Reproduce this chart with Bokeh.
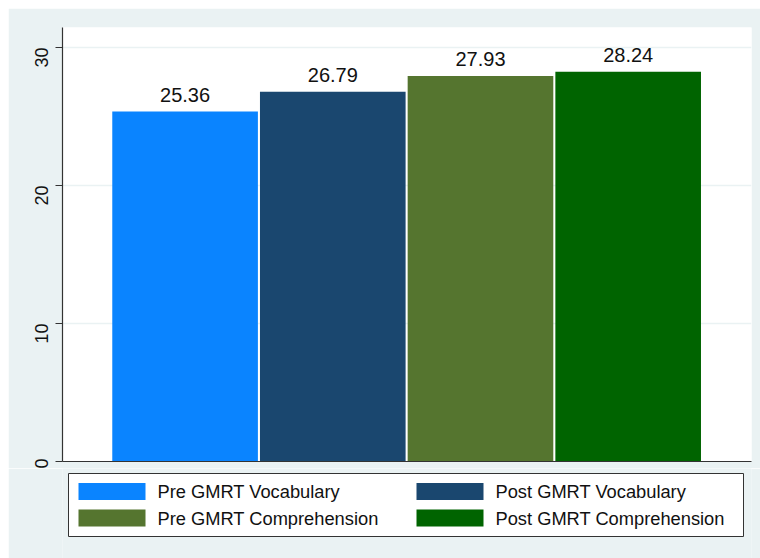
from bokeh.plotting import figure
from bokeh.models import ColumnDataSource, Range1d, FixedTicker, Spacer
from bokeh.layouts import column, row
from bokeh.embed import file_html
from bokeh.resources import INLINE
from bokeh.core.properties import value
import math

categories = ["Pre GMRT Vocabulary", "Post GMRT Vocabulary", "Pre GMRT Comprehension", "Post GMRT Comprehension"]
values = [25.36, 26.79, 27.93, 28.24]
labels = ["25.36", "26.79", "27.93", "28.24"]
colors = ["#0A84FF", "#1A476F", "#55752F", "#006400"]
y_ticks = [0, 10, 20, 30]

FONT = "Liberation Sans"
BG = "#EAF2F3"
TXT = "#111111"

# ---------------- main chart ----------------
p = figure(width=752, height=460, output_backend="svg", toolbar_location=None,
           x_range=Range1d(0.17, 4.835), y_range=Range1d(0, 31.45),
           min_border_left=54, min_border_right=9, min_border_top=19, min_border_bottom=7)
p.border_fill_color = BG
p.background_fill_color = "white"
p.outline_line_color = None

xs = [1, 2, 3, 4]
src = ColumnDataSource(dict(x=xs, top=values, label=labels, color=colors))

p.vbar(x="x", top="top", width=0.986, bottom=0, source=src,
       fill_color="color", line_color=None)

p.text(x="x", y="top", text="label", source=src, text_align="center",
       text_baseline="alphabetic", y_offset=-17, text_font=value(FONT),
       text_font_size="20px", text_color=TXT)

p.xaxis.ticker = FixedTicker(ticks=[])
p.xaxis.major_tick_line_color = None
p.xaxis.minor_tick_line_color = None
p.xaxis.major_label_text_color = None
p.xaxis.major_label_text_font_size = "0px"
p.xaxis.axis_line_color = "#333333"
p.xaxis.axis_line_width = 1.2

p.yaxis.ticker = FixedTicker(ticks=y_ticks)
p.yaxis.minor_tick_line_color = None
p.yaxis.major_tick_out = 7
p.yaxis.major_tick_in = 0
p.yaxis.major_tick_line_color = "#333333"
p.yaxis.axis_line_color = "#333333"
p.yaxis.axis_line_width = 1.2
p.yaxis.major_label_orientation = math.pi / 2
p.yaxis.major_label_text_font = FONT
p.yaxis.major_label_text_font_size = "18px"
p.yaxis.major_label_text_color = TXT
p.yaxis.major_label_standoff = 14

p.xgrid.grid_line_color = None
p.ygrid.grid_line_color = BG
p.ygrid.grid_line_width = 1.5

# ---------------- legend strip (frame aligned with main frame: x 62..751 page px) ----------------
pl = figure(width=752, height=90, output_backend="svg", toolbar_location=None,
            x_range=Range1d(62, 751), y_range=Range1d(90, 0),
            min_border_left=54, min_border_right=9, min_border_top=0, min_border_bottom=0)
pl.axis.visible = False
pl.grid.visible = False
pl.outline_line_color = None
pl.background_fill_color = BG
pl.border_fill_color = BG

# legend box
pl.quad(left=[68], right=[743], top=[5], bottom=[68],
        fill_color="white", line_color="#333333", line_width=1)

sw_x = [78, 416, 78, 416]
sw_y = [23, 23, 49.5, 49.5]
lsrc = ColumnDataSource(dict(
    left=sw_x, right=[v + 67 for v in sw_x],
    top=[v - 8.5 for v in sw_y], bottom=[v + 8.5 for v in sw_y],
    tx=[v + 79 for v in sw_x], ty=sw_y,
    color=colors, name=categories))
pl.quad(left="left", right="right", top="top", bottom="bottom", source=lsrc,
        fill_color="color", line_color=None)
pl.text(x="tx", y="ty", text="name", source=lsrc, text_align="left",
        text_baseline="middle", text_font=value(FONT), text_font_size="18.3px",
        text_color=TXT)

layout = column(Spacer(height=8), row(Spacer(width=8), column(p, pl, spacing=0)), spacing=0)
open("out.html", "w").write(file_html(layout, INLINE))
